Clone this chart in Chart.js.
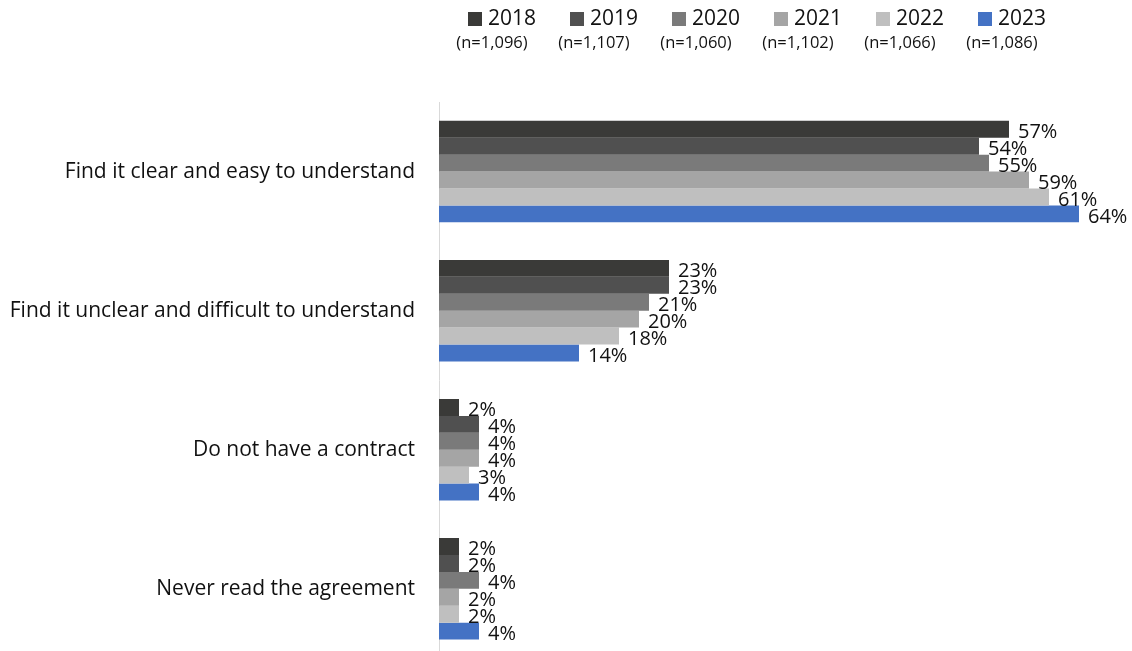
<!DOCTYPE html>
<html>
<head>
<meta charset="utf-8">
<script src="https://cdn.jsdelivr.net/npm/chart.js@4.4.0/dist/chart.umd.min.js"></script>
<style>
  html, body { margin: 0; padding: 0; background: #fff; overflow: hidden; }
  #wrap { position: relative; width: 1132px; height: 700px; }
</style>
</head>
<body>
<div id="wrap"><canvas id="barchart" width="1132" height="687"></canvas></div>
<script>
var categories = [
  'Find it clear and easy to understand',
  'Find it unclear and difficult to understand',
  'Do not have a contract',
  'Never read the agreement'
];
var years = ['2018', '2019', '2020', '2021', '2022', '2023'];
var sampleSizes = ['(n=1,096)', '(n=1,107)', '(n=1,060)', '(n=1,102)', '(n=1,066)', '(n=1,086)'];
var v2018 = [57, 23, 2, 2];
var v2019 = [54, 23, 4, 2];
var v2020 = [55, 21, 4, 4];
var v2021 = [59, 20, 4, 2];
var v2022 = [61, 18, 3, 2];
var v2023 = [64, 14, 4, 4];

var seriesValues = [v2018, v2019, v2020, v2021, v2022, v2023];
var colors = ['#3a3a38', '#505050', '#7a7a7a', '#a5a5a5', '#bfbfbf', '#4472c4'];
var FONT = "'Open Sans', 'Noto Sans', sans-serif";

// values printed at the end of every bar
var barLabels = {
  id: 'barLabels',
  afterDatasetsDraw: function(chart) {
    var ctx = chart.ctx;
    ctx.save();
    ctx.font = '20px ' + FONT;
    ctx.fillStyle = '#111';
    ctx.textAlign = 'left';
    ctx.textBaseline = 'middle';
    chart.data.datasets.forEach(function(ds, i) {
      chart.getDatasetMeta(i).data.forEach(function(bar, j) {
        ctx.fillText(ds.data[j] + '%', bar.x + 9, bar.y + 3);
      });
    });
    ctx.restore();
  }
};

// year legend with sample sizes underneath
var yearLegend = {
  id: 'yearLegend',
  afterDraw: function(chart) {
    var ctx = chart.ctx;
    ctx.save();
    chart.data.datasets.forEach(function(ds, i) {
      var x0 = 468 + i * 102;
      ctx.fillStyle = ds.backgroundColor;
      ctx.fillRect(x0, 12, 14, 14);
      ctx.fillStyle = '#111';
      ctx.font = '21px ' + FONT;
      ctx.textAlign = 'left';
      ctx.textBaseline = 'middle';
      ctx.fillText(ds.label, x0 + 20, 19);
      ctx.font = '16.5px ' + FONT;
      ctx.textAlign = 'center';
      ctx.fillText(sampleSizes[i], x0 + 24, 43);
    });
    ctx.restore();
  }
};

var ctx = document.getElementById('barchart').getContext('2d');
var myChart = new Chart(ctx, {
  type: 'bar',
  data: {
    labels: categories,
    datasets: years.map(function(y, i) {
      return {
        label: y,
        data: seriesValues[i],
        backgroundColor: colors[i],
        barPercentage: 1.0,
        categoryPercentage: 0.73
      };
    })
  },
  options: {
    indexAxis: 'y',
    responsive: false,
    animation: false,
    layout: { padding: { top: 102, right: 3, bottom: 0, left: 0 } },
    plugins: {
      legend: { display: false },
      tooltip: { enabled: false }
    },
    scales: {
      x: {
        display: false,
        min: 0,
        max: 69
      },
      y: {
        grid: { display: false },
        border: { display: true, color: '#d9d9d9', width: 1 },
        ticks: {
          color: '#111',
          padding: 16,
          font: { family: FONT, size: 21 }
        },
        afterFit: function(axis) { axis.width = 439; }
      }
    }
  },
  plugins: [barLabels, yearLegend]
});
</script>
</body>
</html>
